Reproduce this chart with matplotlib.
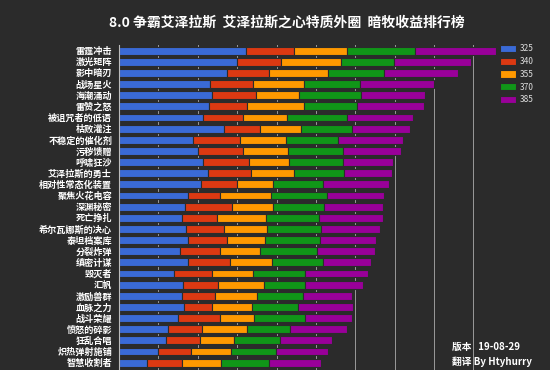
import matplotlib
matplotlib.use("Agg")
import matplotlib.pyplot as plt
import numpy as np

plt.rcParams['font.family'] = ['Noto Sans CJK SC', 'DejaVu Sans']

# trait names, top to bottom
labels = ["雷霆冲击", "激光矩阵", "影中暗刃", "战场星火", "海潮涌动",
          "雷赞之怒", "被诅咒者的低语", "枯败灌注", "不稳定的催化剂", "污秽馈赠",
          "呼啸狂沙", "艾泽拉斯的勇士", "相对性常态化装置", "聚焦火花电容", "深渊秘密",
          "死亡挣扎", "希尔瓦娜斯的决心", "泰坦档案库", "分裂炸弹", "缜密计谋",
          "毁灭者", "汇帆", "激励兽群", "血脉之力", "战斗荣耀",
          "愤怒的碎影", "狂乱合唱", "炽热弹射施铺", "智慧收割者"]

# item level series (stacked gains)
ilvls = ["325", "340", "355", "370", "385"]
v325 = [322, 299, 275, 231, 235, 229, 214, 267, 189, 201, 214, 227, 208, 176, 168,
        159, 170, 176, 155, 174, 140, 162, 159, 166, 151, 125, 119, 100, 72]
v340 = [122, 112, 106, 108, 113, 97, 102, 92, 118, 113, 117, 108, 91, 80, 118,
        91, 97, 97, 101, 107, 95, 90, 85, 69, 106, 87, 86, 83, 87]
v355 = [136, 152, 149, 131, 110, 144, 110, 102, 117, 116, 101, 109, 93, 131, 104,
        124, 110, 97, 102, 108, 106, 117, 106, 103, 85, 112, 87, 102, 100]
v370 = [172, 136, 142, 141, 156, 135, 154, 130, 131, 140, 138, 128, 127, 140, 131,
        135, 135, 140, 144, 129, 131, 103, 118, 117, 131, 110, 118, 114, 122]
v385 = [205, 196, 190, 190, 163, 169, 166, 149, 167, 146, 125, 120, 167, 146, 150,
        161, 150, 142, 148, 121, 161, 148, 124, 138, 118, 146, 132, 131, 131]

colors = ["#3a6ad6", "#dc3912", "#ff9900", "#109618", "#990099"]
bg = "#2b2b2b"

fig = plt.figure(figsize=(5.5, 3.7), dpi=100, facecolor=bg)
ax = fig.add_axes([119 / 550, 0, (501 - 119) / 550, 325 / 370])
ax.set_facecolor(bg)

y = np.arange(len(labels))
left = np.zeros(len(labels))
series = [v325, v340, v355, v370, v385]
handles = []
for vals, c, name in zip(series, colors, ilvls):
    b = ax.barh(y, vals, left=left, height=0.7, color=c, edgecolor=bg,
                linewidth=0.8, label=name, zorder=2)
    handles.append(b)
    left += np.array(vals)

ax.set_xlim(0, 970)
ax.set_ylim(28.66, -0.51)
ax.set_xticks(np.arange(100, 1000, 100))
ax.xaxis.grid(True, color="#9a9a9a", linewidth=0.7, zorder=0)
ax.tick_params(axis="x", length=0, labelbottom=False)
ax.tick_params(axis="y", length=0, pad=5)
ax.set_yticks(y)
ax.set_yticklabels(labels, color="white", fontsize=6.6, fontweight="bold")
for s in ["top", "right", "bottom"]:
    ax.spines[s].set_visible(False)
ax.spines["left"].set_color("#bbbbbb")
ax.spines["left"].set_linewidth(0.8)

leg = fig.legend(handles=handles, loc="upper left", bbox_to_anchor=(497 / 550, 1 - 41 / 370),
                 frameon=False, fontsize=6, labelcolor="#dddddd",
                 handlelength=1.9, handleheight=1.0, labelspacing=0.45, handletextpad=0.4,
                 borderaxespad=0)

fig.text(287 / 550, 1 - 23 / 370, "8.0 争霸艾泽拉斯  艾泽拉斯之心特质外圈  暗牧收益排行榜",
         ha="center", va="center", color="white", fontsize=10, fontweight="heavy")
fig.text(452 / 550, 1 - 346.5 / 370, "版本   19-08-29", ha="left", va="center",
         color="white", fontsize=7, fontweight="bold")
fig.text(452 / 550, 1 - 362 / 370, "翻译 By Htyhurry", ha="left", va="center",
         color="white", fontsize=7, fontweight="bold")

fig.savefig("out.png", dpi=100, facecolor=bg)
